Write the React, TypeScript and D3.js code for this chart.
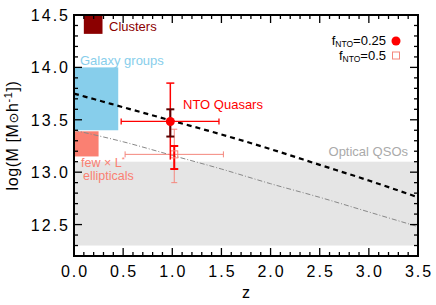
import React from "react";
import * as d3 from "d3";

const W = 436, H = 305;
const xDomain = [0, 3.5];
const yDomain = [12.2, 14.5];
const xTicks = [0, 0.5, 1, 1.5, 2, 2.5, 3, 3.5];
const yTicks = [12.5, 13.0, 13.5, 14.0, 14.5];

// boxes: [z0, z1, m0, m1]
const clustersBox = [0.1, 0.29, 14.32, 14.5];
const groupsBox = [0, 0.45, 13.4, 14.0];
const ellipticalsBox = [0, 0.25, 13.15, 13.39];
const opticalBand = [0, 3.5, 12.3, 13.1];

const lineZ = [0, 0.5, 1, 1.5, 2, 2.5, 3, 3.5];
const dashedM = [13.75, 13.62, 13.49, 13.36, 13.22, 13.07, 12.92, 12.76];
const dashDotM = [13.4, 13.29, 13.16, 13.03, 12.89, 12.76, 12.62, 12.48];

// NTO quasars f=0.25 point
const circlePt = { z: 0.98, m: 13.484, zLo: 0.48, zHi: 1.475, outerLo: 13.12, outerHi: 13.85, innerLo: 13.34, innerHi: 13.6 };
// f=0.5 point
const squarePt = { z: 1.02, m: 13.17, zLo: 0.52, zHi: 1.52, outerLo: 12.9, outerHi: 13.41, innerLo: 13.03, innerHi: 13.25 };

const FONT = "'Liberation Sans', Arial, Helvetica, sans-serif";

export default function App() {
  const x = d3.scaleLinear().domain(xDomain).range([74, 418]);
  const y = d3.scaleLinear().domain(yDomain).range([256, 15]);
  const [x0, x1] = x.range();
  const [y0, y1] = y.range();

  const rect = (b: number[], fill: string) => (
    <rect x={x(b[0])} y={y(b[3])} width={x(b[1]) - x(b[0])} height={y(b[2]) - y(b[3])} fill={fill} />
  );

  const line = d3.line<number>().x((_, i) => x(lineZ[i])).y((d) => y(d)).curve(d3.curveMonotoneX);

  const xMinor = d3.range(0, 35.01, 1).map((v) => v / 10);
  const yMinor = d3.range(123, 145.01, 1).map((v) => v / 10);

  const vErr = (xx: number, lo: number, hi: number, color: string, w: number, cap: number) => (
    <g stroke={color} strokeWidth={w}>
      <line x1={xx} x2={xx} y1={y(lo)} y2={y(hi)} />
      <line x1={xx - cap} x2={xx + cap} y1={y(lo)} y2={y(lo)} />
      <line x1={xx - cap} x2={xx + cap} y1={y(hi)} y2={y(hi)} />
    </g>
  );
  const hErr = (yy: number, lo: number, hi: number, color: string, w: number, cap: number) => (
    <g stroke={color} strokeWidth={w}>
      <line x1={x(lo)} x2={x(hi)} y1={yy} y2={yy} />
      <line x1={x(lo)} x2={x(lo)} y1={yy - cap} y2={yy + cap} />
      <line x1={x(hi)} x2={x(hi)} y1={yy - cap} y2={yy + cap} />
    </g>
  );

  const cx = x(circlePt.z), cy = y(circlePt.m);
  const sx = x(squarePt.z), sy = y(squarePt.m);

  return (
    <svg width={W} height={H} style={{ position: "absolute", left: 0, top: 0, background: "#fff" }} fontFamily={FONT}>
      {rect(opticalBand, "#e5e5e5")}
      {rect(groupsBox, "#87ceeb")}
      {rect(ellipticalsBox, "#fa8072")}
      {rect(clustersBox, "#8b0000")}

      <path d={line(dashDotM) || ""} fill="none" stroke="#888" strokeWidth={1} strokeDasharray="5,2,1,2" />
      <path d={line(dashedM) || ""} fill="none" stroke="#000" strokeWidth={2.2} strokeDasharray="5,4" />

      {/* square point */}
      {hErr(sy, squarePt.zLo, squarePt.zHi, "#f4877d", 1, 3)}
      {vErr(sx, squarePt.outerLo, squarePt.outerHi, "#f4877d", 1, 3)}
      {vErr(sx, squarePt.innerLo, squarePt.innerHi, "#ff0000", 2, 4)}
      <rect x={sx - 3.5} y={sy - 3.5} width={7} height={7} fill="none" stroke="#f4877d" strokeWidth={1} />

      {/* circle point */}
      <line x1={cx} x2={cx} y1={y(circlePt.outerLo)} y2={y(circlePt.outerHi)} stroke="#ff0000" strokeWidth={1.5} />
      <line x1={cx - 4} x2={cx + 4} y1={y(circlePt.outerHi)} y2={y(circlePt.outerHi)} stroke="#ff0000" strokeWidth={1.5} />
      {hErr(cy, circlePt.zLo, circlePt.zHi, "#ff0000", 1.3, 3)}
      {vErr(cx, circlePt.innerLo, circlePt.innerHi, "#5a0000", 2, 4)}
      <circle cx={cx} cy={cy} r={4.5} fill="#ff0000" />

      {/* labels */}
      <text x={109} y={31} fontSize={13} fill="#8b0000">Clusters</text>
      <text x={80} y={65} fontSize={13} fill="#87ceeb">Galaxy groups</text>
      <text x={183} y={109} fontSize={13} fill="#ff0000">NTO Quasars</text>
      <text x={81} y={167} fontSize={12.5} fill="#fa8072">few × L<tspan dy={-5} fontSize={8}>*</tspan></text>
      <text x={83} y={180} fontSize={12.5} fill="#fa8072">ellipticals</text>
      <text x={408} y={156} fontSize={13} fill="#aaaaaa" textAnchor="end">Optical QSOs</text>

      {/* legend */}
      <text x={386} y={45} fontSize={13} textAnchor="end" fill="#000">
        f<tspan dy={2} fontSize={8.5}>NTO</tspan><tspan dy={-2}>=0.25</tspan>
      </text>
      <circle cx={396} cy={41} r={4.5} fill="#ff0000" />
      <text x={386} y={60} fontSize={13} textAnchor="end" fill="#000">
        f<tspan dy={2} fontSize={8.5}>NTO</tspan><tspan dy={-2}>=0.5</tspan>
      </text>
      <rect x={392.5} y={52} width={7} height={7} fill="none" stroke="#f4877d" strokeWidth={1} />

      {/* frame & ticks */}
      <g stroke="#000">
        {xMinor.map((v, i) => {
          const major = xTicks.some((t) => Math.abs(t - v) < 1e-6);
          const len = major ? 8 : 4;
          return (
            <g key={"x" + i} strokeWidth={1.3}>
              <line x1={x(v)} x2={x(v)} y1={y0} y2={y0 - len} />
              <line x1={x(v)} x2={x(v)} y1={y1} y2={y1 + len} />
            </g>
          );
        })}
        {yMinor.map((v, i) => {
          const major = yTicks.some((t) => Math.abs(t - v) < 1e-6);
          const len = major ? 8 : 4;
          return (
            <g key={"y" + i} strokeWidth={1.3}>
              <line x1={x0} x2={x0 + len} y1={y(v)} y2={y(v)} />
              <line x1={x1} x2={x1 - len} y1={y(v)} y2={y(v)} />
            </g>
          );
        })}
        <rect x={x0} y={y1} width={x1 - x0} height={y0 - y1} fill="none" strokeWidth={2} />
      </g>

      {xTicks.map((t) => (
        <text key={"xt" + t} x={x(t) + 1} y={277} fontSize={16} letterSpacing={2} textAnchor="middle" fill="#000">{t.toFixed(1)}</text>
      ))}
      {yTicks.map((t) => (
        <text key={"yt" + t} x={70} y={y(t) + 6} fontSize={16} letterSpacing={2} textAnchor="end" fill="#000">{t.toFixed(1)}</text>
      ))}
      <text x={(x0 + x1) / 2} y={298} fontSize={16} textAnchor="middle" fill="#000">z</text>
      <text transform={`translate(18,${(y0 + y1) / 2}) rotate(-90)`} fontSize={16} letterSpacing={0.6} textAnchor="middle" fill="#000">
        log(M [M<tspan fontFamily="'DejaVu Sans'" fontSize={13}>⊙</tspan>h<tspan dy={-6} fontSize={11}>-1</tspan><tspan dy={6}>])</tspan>
      </text>
    </svg>
  );
}
